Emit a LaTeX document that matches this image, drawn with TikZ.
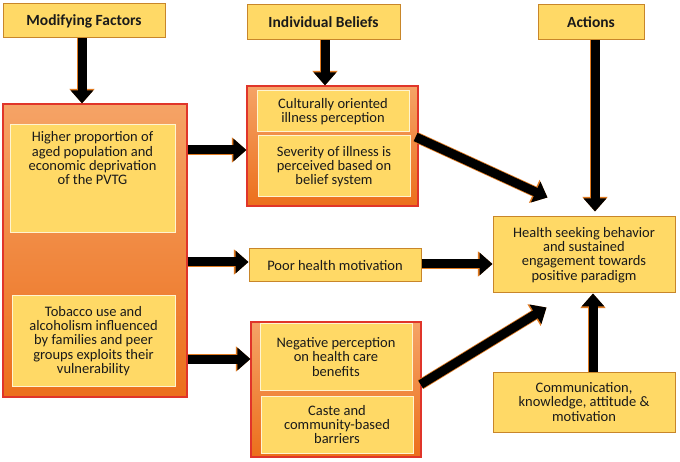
\documentclass[tikz,border=0pt]{standalone}
\usepackage{fontspec}
\setmainfont{Carlito}
\usetikzlibrary{arrows.meta,calc}
\definecolor{yfill}{HTML}{FFD966}
\definecolor{ydraw}{HTML}{C8862A}
\definecolor{otop}{HTML}{F5A366}
\definecolor{obot}{HTML}{EC6F1C}
\definecolor{odraw}{HTML}{E0352A}
\definecolor{iline}{HTML}{FFF4D0}
\definecolor{arrline}{HTML}{E07A20}
\definecolor{txtc}{HTML}{1A1A1A}
\tikzset{
  ybox/.style={draw=ydraw, line width=1pt, fill=yfill, inner sep=0pt, align=center, text=txtc,
    font=\fontsize{14.5}{14.3}\selectfont},
  hbox/.style={ybox, font=\bfseries\fontsize{15.5}{16}\selectfont},
  grp/.style={draw=odraw, line width=1.2pt, top color=otop, bottom color=obot, inner sep=0pt},
  ibox/.style={draw=iline, line width=1pt, fill=yfill, inner sep=0pt, align=center, text=txtc,
    font=\fontsize{14.5}{14.3}\selectfont},
  txt/.style={align=center, text=txtc, inner sep=0pt, font=\fontsize{14.5}{14.3}\selectfont},
  fat/.style={draw=black, line width=9pt, -{Triangle[length=13pt,width=22pt]},
    preaction={draw=arrline, line width=10.6pt, -{Triangle[length=14.6pt,width=24.5pt]}}}
}
\begin{document}
\begin{tikzpicture}[x=1pt,y=-1pt]
\useasboundingbox[fill=white] (0,0) rectangle (680,462);
% headers
\node (MF) [hbox, minimum width=162pt, minimum height=34pt] at (84,21) {Modifying Factors};
\node (IBH) [hbox, minimum width=153pt, minimum height=35pt] at (323.5,22.5) {Individual Beliefs};
\node (ACT) [hbox, minimum width=106pt, minimum height=35pt] at (591,22.5) {Actions};
% left group
\node (L) [grp, minimum width=184pt, minimum height=293pt] at (95,250.5) {};
\node (L1) [ibox, minimum width=165pt, minimum height=108pt] at (92.5,179) {};
\node (L1t) [txt, anchor=north] at ($(L1.north)+(0,7)$) {Higher proportion of\\aged population and\\economic deprivation\\of the PVTG};
\node (L2) [ibox, minimum width=163pt, minimum height=90pt] at (93.5,341) {Tobacco use and\\alcoholism influenced\\by families and peer\\groups exploits their\\vulnerability};
% individual beliefs group
\node (IB) [grp, minimum width=171pt, minimum height=120pt] at (332.5,146) {};
\node (IB1) [ibox, minimum width=152pt, minimum height=41pt] at (333,111.5) {Culturally oriented\\illness perception};
\node (IB2) [ibox, minimum width=152pt, minimum height=61pt] at (334,166.5) {Severity of illness is\\perceived based on\\belief system};
% poor health
\node (PH) [ybox, minimum width=172pt, minimum height=33pt] at (335,265.5) {Poor health motivation};
% negative group
\node (NG) [grp, minimum width=170pt, minimum height=135pt] at (336,389.5) {};
\node (NG1) [ibox, minimum width=152pt, minimum height=66pt] at (336,357) {Negative perception\\on health care\\benefits};
\node (NG2) [ibox, minimum width=152pt, minimum height=57pt] at (337,424.5) {Caste and\\community-based\\barriers};
% right
\node (HS) [ybox, minimum width=182pt, minimum height=76pt] at (584,255) {Health seeking behavior\\and sustained\\engagement towards\\positive paradigm};
\node (CM) [ybox, minimum width=182pt, minimum height=60pt] at (584,402) {Communication,\\knowledge, attitude \&\\motivation};
% arrows
\draw[fat] (MF.south -| 82,0) -- (L.north -| 82,0);
\draw[fat] (IBH.south -| 325,0) -- (IB.north -| 325,0);
\draw[fat] (ACT.south -| 595,0) -- ($(HS.north -| 595,0)+(0,-5)$);
\draw[fat] (L.east |- 0,150) -- (IB.west |- 0,150);
\draw[fat] (L.east |- 0,262) -- (PH.west |- 0,262);
\draw[fat] (L.east |- 0,359) -- (NG.west |- 0,359);
\draw[fat] (PH.east |- 0,264) -- (HS.west |- 0,264);
\draw[fat] ($(IB.east)+(-3,-9)$) -- ($(HS.north west)+(55,-19)$);
\draw[fat] ($(NG.east)+(-1,-5)$) -- ($(HS.south west)+(54,14)$);
\draw[fat] (CM.north -| 593,0) -- (HS.south -| 593,0);
\end{tikzpicture}
\end{document}
